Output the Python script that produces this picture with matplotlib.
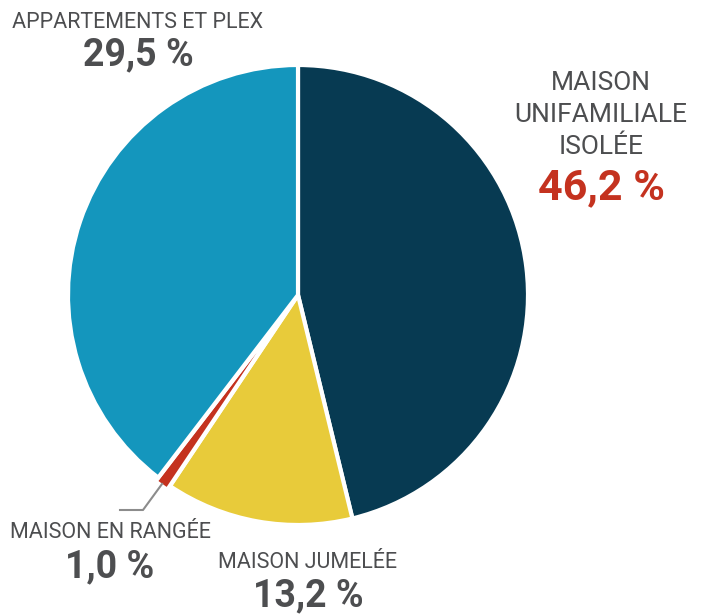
import matplotlib
matplotlib.use("Agg")
import matplotlib.pyplot as plt

plt.rcParams['font.family'] = ['Roboto', 'DejaVu Sans']

# values as drawn (the picture's slices), labels as printed
categories = ["MAISON\nUNIFAMILIALE\nISOLÉE", "MAISON JUMELÉE", "MAISON EN RANGÉE", "APPARTEMENTS ET PLEX"]
slice_values = [46.2, 13.2, 1.0, 39.6]
pct_labels = ["46,2 %", "13,2 %", "1,0 %", "29,5 %"]
colors = ["#073a52", "#e8cb3a", "#c4321f", "#1496bd"]

W, H = 707, 614
fig = plt.figure(figsize=(W / 100, H / 100), dpi=100)

def px(x, y):
    return x / W, 1 - y / H

# pie axes: center (298,295), radius 230 px
ax = fig.add_axes([68 / W, 1 - 525 / H, 460 / W, 460 / H])
ax.pie(slice_values, colors=colors, startangle=90, counterclock=False,
       explode=[0, 0, 0.02, 0],
       wedgeprops=dict(edgecolor="white", linewidth=3))
ax.set_xlim(-1, 1)
ax.set_ylim(-1, 1)
ax.set_aspect("equal")
ax.axis("off")

grey = "#4d4e50"
red = "#c4321f"

# leader line for the tiny slice
fig.add_artist(plt.Line2D([162 / W, 143 / W, 120 / W],
                          [1 - 484 / H, 1 - 510 / H, 1 - 510 / H],
                          color="#8c8c8c", lw=1.5))

lab_kw = dict(ha="center", va="center", color=grey, fontsize=15.5)
pct_kw = dict(ha="center", va="center", color=grey, fontsize=27, fontweight="bold")

# isolée
for txt, y in zip(categories[0].split("\n"), [83, 115, 147]):
    fig.text(*px(601, y), txt, **dict(lab_kw, fontsize=19))
fig.text(*px(601, 188), pct_labels[0], **dict(pct_kw, color=red, fontsize=31))

# jumelée
fig.text(*px(308, 562), categories[1], **lab_kw)
fig.text(*px(308, 596), pct_labels[1], **pct_kw)

# rangée
fig.text(*px(110, 533), categories[2], **lab_kw)
fig.text(*px(110, 567), pct_labels[2], **pct_kw)

# appartements
fig.text(*px(138, 22), categories[3], **lab_kw)
fig.text(*px(138, 55), pct_labels[3], **pct_kw)

fig.savefig("out.png", dpi=100)
